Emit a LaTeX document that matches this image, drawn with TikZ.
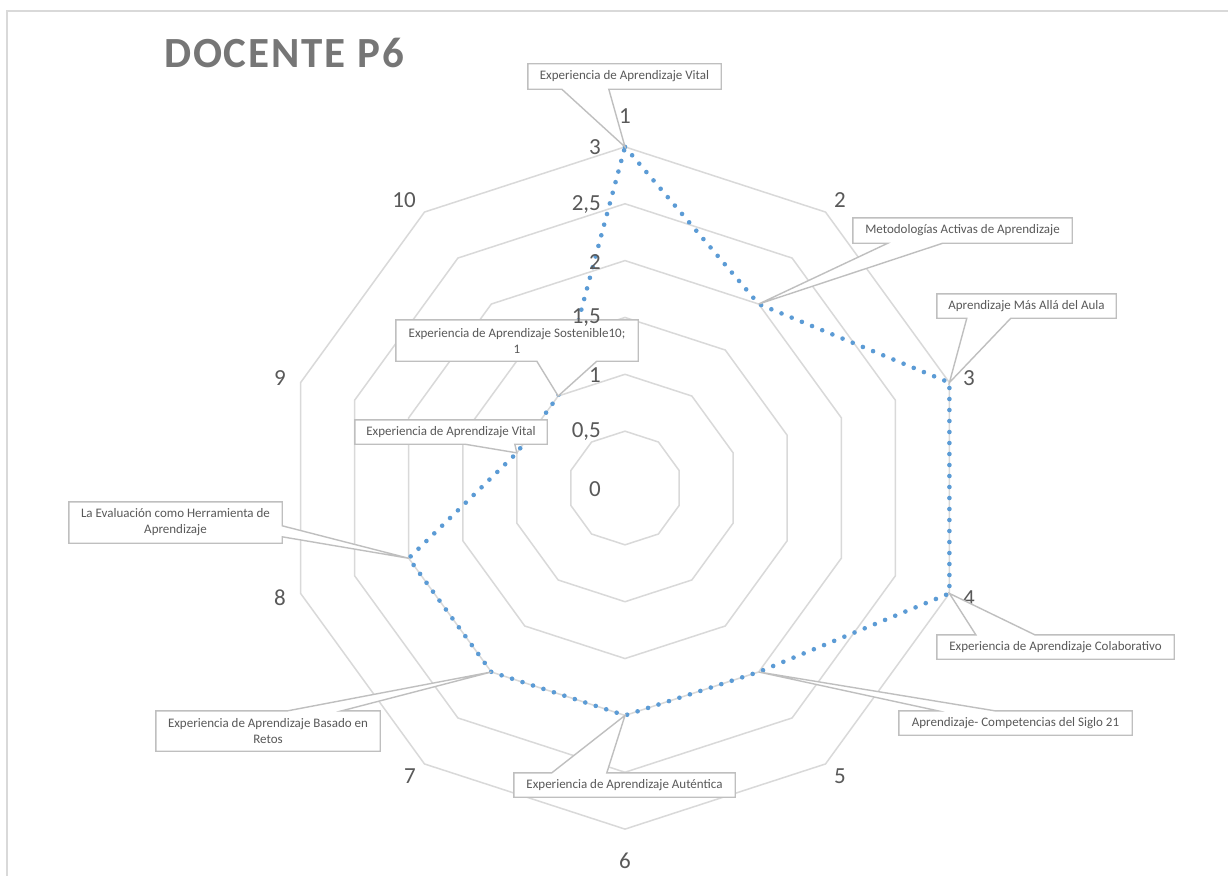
\documentclass[tikz,border=0pt]{standalone}
\usepackage{fontspec}
\setmainfont{Carlito}
\usetikzlibrary{calc,positioning}
\definecolor{gridgray}{HTML}{D9D9D9}
\definecolor{boxgray}{HTML}{BFBFBF}
\definecolor{txtgray}{HTML}{595959}
\definecolor{titlegray}{HTML}{767676}
\definecolor{serieblue}{HTML}{5B9BD5}
\def\unitr{113.7}
\tikzset{
  gridline/.style={draw=gridgray, line width=1.5pt},
  serie/.style={draw=serieblue, line width=4.6pt, line cap=round, dash pattern=on 0pt off 11pt},
  callbox/.style={inner sep=0pt},
  calloutline/.style={draw=boxgray, line width=1.4pt, fill=white, line join=miter},
  calltext/.style={text=txtgray, font=\fontsize{13}{16}\selectfont, align=center},
  axislabel/.style={text=txtgray, font=\fontsize{23}{26}\selectfont, inner sep=0pt},
}

\begin{document}
\begin{tikzpicture}[x=1pt, y=-1pt]
    \useasboundingbox (0,0) rectangle (1228,875);
    \fill[white] (0,0) rectangle (1228,875);
    \draw[gridgray, line width=1.3pt] (7,11) rectangle (1240,890);
    \node[font=\fontsize{43}{48}\selectfont\bfseries, text=titlegray, anchor=base] (title) at (284,67) {\addfontfeature{LetterSpace=4.3}DOCENTE P6};

    % grid
    \coordinate (c) at (625,488);
    \foreach \r in {1,...,6} {
      \draw[gridline] ($(c)+(-90:\r*\unitr/2)$) \foreach \k in {1,...,9} { -- ($(c)+(\k*36-90:\r*\unitr/2)$) } -- cycle;
    }
    \foreach \n/\x/\y in {1/625/116,2/840/200,3/969/378,4/969/598,5/840/776,6/625/861,7/410/776,8/280/598,9/280/378,10/404/200}
      \node[axislabel] (ax\n) at (\x,\y) {\n};

    % serie
    \foreach \i/\v in {1/3,2/2,3/3,4/3,5/2,6/2,7/2,8/2,9/1,10/1}
      \coordinate (p\i) at ($(c)+(36*\i-126:\v*\unitr)$);
    \draw[serie] (p1) -- (p2) -- (p3) -- (p4) -- (p5) -- (p6) -- (p7) -- (p8) -- (p9) -- (p10) -- cycle;

    % callouts
    \node[callbox, minimum width=193, minimum height=25] (v1) at (624.5,76.5) {};
    \draw[calloutline] (v1.north west) -- (v1.north east) -- (v1.south east) -- ($(v1.south west)+(81,0)$) -- (p1) -- ($(v1.south west)+(34,0)$) -- (v1.south west) -- cycle;
    \node[calltext] at (v1) {Experiencia de Aprendizaje Vital};

    \node[callbox, minimum width=219, minimum height=25] (m2) at (962.5,230.5) {};
    \draw[calloutline] (m2.north west) -- (m2.north east) -- (m2.south east) -- ($(m2.south west)+(90,0)$) -- (p2) -- ($(m2.south west)+(35,0)$) -- (m2.south west) -- cycle;
    \node[calltext] at (m2) {Metodologías Activas de Aprendizaje};

    \node[callbox, minimum width=179, minimum height=24] (a3) at (1026.5,306) {};
    \draw[calloutline] (a3.north west) -- (a3.north east) -- (a3.south east) -- ($(a3.south west)+(74,0)$) -- (p3) -- ($(a3.south west)+(30,0)$) -- (a3.south west) -- cycle;
    \node[calltext] at (a3) {Aprendizaje Más Allá del Aula};

    \node[callbox, minimum width=237, minimum height=24] (c4) at (1055.5,647) {};
    \draw[calloutline] (c4.south west) -- (c4.south east) -- (c4.north east) -- ($(c4.north west)+(98,0)$) -- (p4) -- ($(c4.north west)+(39,0)$) -- (c4.north west) -- cycle;
    \node[calltext] at (c4) {Experiencia de Aprendizaje Colaborativo};

    \node[callbox, minimum width=233, minimum height=24] (s5) at (1015.5,723) {};
    \draw[calloutline] (s5.south west) -- (s5.south east) -- (s5.north east) -- ($(s5.north west)+(96,0)$) -- (p5) -- ($(s5.north west)+(39,0)$) -- (s5.north west) -- cycle;
    \node[calltext] at (s5) {Aprendizaje- Competencias del Siglo 21};

    \node[callbox, minimum width=221, minimum height=24] (au6) at (624.5,785) {};
    \draw[calloutline] (au6.south west) -- (au6.south east) -- (au6.north east) -- ($(au6.north west)+(93,0)$) -- (p6) -- ($(au6.north west)+(38,0)$) -- (au6.north west) -- cycle;
    \node[calltext] at (au6) {Experiencia de Aprendizaje Auténtica};

    \node[callbox, minimum width=224, minimum height=40] (r7) at (268,731) {};
    \draw[calloutline] (r7.south west) -- (r7.south east) -- (r7.north east) -- ($(r7.north west)+(186,0)$) -- (p7) -- ($(r7.north west)+(132,0)$) -- (r7.north west) -- cycle;
    \node[calltext] at (r7) {Experiencia de Aprendizaje Basado en\\Retos};

    \node[callbox, minimum width=213, minimum height=41] (e8) at (175.5,522.5) {};
    \draw[calloutline] (e8.north west) -- (e8.north east) -- ($(e8.north east)+(0,24)$) -- (p8) -- ($(e8.north east)+(0,35)$) -- (e8.south east) -- (e8.south west) -- cycle;
    \node[calltext] at (e8) {La Evaluación como Herramienta de\\Aprendizaje};

    \node[callbox, minimum width=192, minimum height=24] (v9) at (451,432) {};
    \draw[calloutline] (v9.north west) -- (v9.north east) -- (v9.south east) -- ($(v9.south west)+(160,0)$) -- (p9) -- ($(v9.south west)+(110,0)$) -- (v9.south west) -- cycle;
    \node[calltext] at (v9) {Experiencia de Aprendizaje Vital};

    \node[callbox, minimum width=242, minimum height=41] (s10) at (517,340.5) {};
    \draw[calloutline] (s10.north west) -- (s10.north east) -- (s10.south east) -- ($(s10.south west)+(201,0)$) -- (p10) -- ($(s10.south west)+(141,0)$) -- (s10.south west) -- cycle;
    \node[calltext] at (s10) {Experiencia de Aprendizaje Sostenible10;\\1};

    % scale
    \path (601,489) node[axislabel, anchor=east] (s0) {0}
          (601,432) node[axislabel, anchor=east] (s05) {0,5}
          (601,375) node[axislabel, anchor=east] (s1) {1}
          (601,318) node[axislabel, anchor=east] (s15) {1,5}
          (601,262) node[axislabel, anchor=east] (s2) {2}
          (601,205) node[axislabel, anchor=east] (s25) {2,5}
          (601,147) node[axislabel, anchor=east] (s3) {3};
\end{tikzpicture}
\end{document}
